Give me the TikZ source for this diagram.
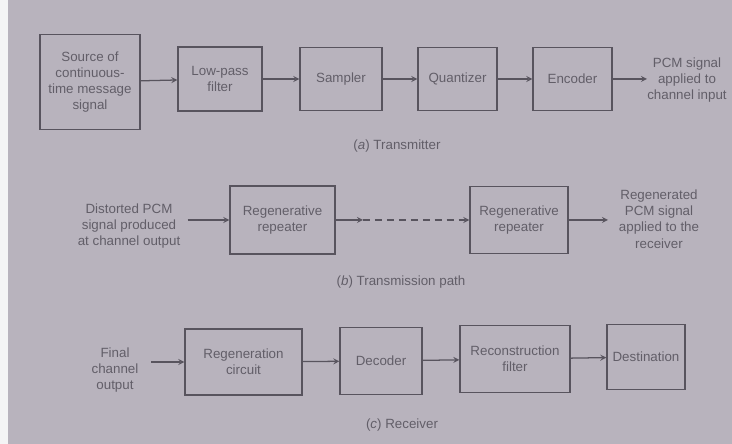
\documentclass[tikz,border=0pt]{standalone}
\usepackage{fontspec}
\setmainfont{Liberation Sans}
\usepackage{tikz}
\usetikzlibrary{arrows, positioning}
\definecolor{paper}{RGB}{184,179,189}
\definecolor{ink}{RGB}{88,84,94}
\definecolor{inktext}{RGB}{98,94,104}
\tikzstyle{block} = [rectangle, text centered, align=center, draw=ink, line width=0.9pt,
	text=inktext, font=\fontsize{9.5}{11.5}\selectfont, inner sep=2pt]
\tikzstyle{label} = [text centered, align=center, text=inktext,
	font=\fontsize{9.5}{11.5}\selectfont, inner sep=1pt]
\tikzstyle{caption} = [text=inktext, font=\fontsize{9.5}{11.5}\selectfont]
\tikzstyle{arrow} = [->, >=stealth, draw=ink, line width=0.9pt]

\begin{document}
\begin{tikzpicture}[x=0.025cm, y=-0.025cm]
	% set up background
	\fill[paper] (0,0) rectangle (732,444);
	\fill[white!85!paper] (0,0) rectangle (8,444);
	\useasboundingbox (0,0) rectangle (732,444);

	% set up transmitter
	\node (source) [block, minimum width=2.5cm, minimum height=2.375cm] at (90,82) {Source of\\continuous-\\time message\\signal};
	\node (lowpass) [block, minimum width=2.1cm, minimum height=1.6cm] at (220,79) {Low-pass\\filter};
	\node (sampler) [block, minimum width=2.05cm, minimum height=1.575cm] at (341,79) {Sampler};
	\node (quant) [block, minimum width=1.975cm, minimum height=1.575cm] at (457.5,79) {Quantizer};
	\node (encoder) [block, minimum width=1.975cm, minimum height=1.575cm] at (572.5,79) {Encoder};
	\node (pcmout) [label] at (687,80) {PCM signal\\applied to\\channel input};
	\coordinate (pcmin) at (647,79);
	\node (capa) [caption] at (397,146) {(\textit{a}) Transmitter};

	\draw [arrow] (source) -- (lowpass);
	\draw [arrow] (lowpass) -- (sampler);
	\draw [arrow] (sampler) -- (quant);
	\draw [arrow] (quant) -- (encoder);
	\draw [arrow] (encoder) -- (pcmin);

	% set up transmission path
	\node (distorted) [label] at (129,226) {Distorted PCM\\signal produced\\at channel output};
	\node (repA) [block, minimum width=2.625cm, minimum height=1.7cm] at (282.5,220) {Regenerative\\repeater};
	\coordinate (gap) at (363,220);
	\node (repB) [block, minimum width=2.45cm, minimum height=1.675cm] at (519,220) {Regenerative\\repeater};
	\node (regen) [label] at (659,219) {Regenerated\\PCM signal\\applied to the\\receiver};
	\coordinate (regenin) at (608,220);
	\node (capb) [caption] at (401,282) {(\textit{b}) Transmission path};

	\draw [arrow, shorten <=4pt] (distorted.east |- repA) -- (repA);
	\draw [arrow] (repA) -- (gap);
	\draw [arrow, dash pattern=on 5pt off 3.5pt] (gap) -- (repB);
	\draw [arrow] (repB) -- (regenin);

	% set up receiver
	\node (final) [label] at (115,370) {Final\\channel\\output};
	\node (circuit) [block, minimum width=2.925cm, minimum height=1.65cm] at (243.5,362) {Regeneration\\circuit};
	\node (decoder) [block, minimum width=2.05cm, minimum height=1.675cm] at (381,361) {Decoder};
	\node (recon) [block, minimum width=2.75cm, minimum height=1.675cm] at (515,359) {Reconstruction\\filter};
	\node (dest) [block, minimum width=1.95cm, minimum height=1.625cm] at (646,357) {Destination};
	\node (capc) [caption] at (402,425) {(\textit{c}) Receiver};

	\draw [arrow, shorten <=8pt] (final.east |- circuit) -- (circuit);
	\draw [arrow] (circuit) -- (decoder);
	\draw [arrow] (decoder) -- (recon);
	\draw [arrow] (recon) -- (dest);

\end{tikzpicture}
\end{document}
